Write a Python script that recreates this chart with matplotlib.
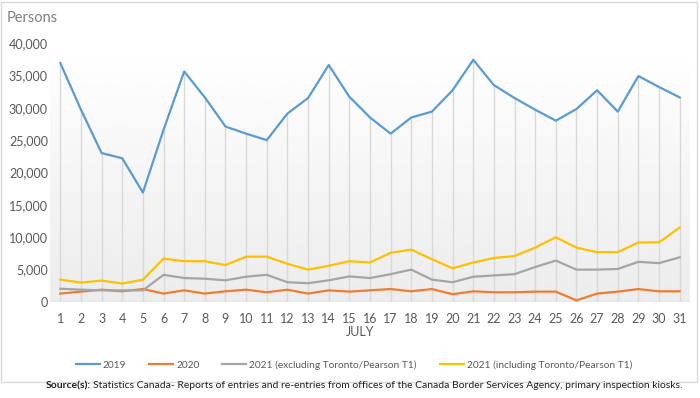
import numpy as np
import matplotlib.pyplot as plt
from matplotlib.patches import Rectangle

plt.rcParams['font.family'] = ['Lato', 'DejaVu Sans']

# DATA (persons per day, July)
days = list(range(1, 32))
v2019 = [36900, 29700, 23000, 22200, 16900, 26600, 35600, 31600, 27100, 26000,
         25000, 29100, 31500, 36600, 31700, 28500, 26000, 28500, 29400, 32700,
         37400, 33500, 31500, 29700, 28000, 29800, 32700, 29400, 34900, 33200, 31600]
v2020 = [1300, 1600, 1900, 1650, 2000, 1300, 1800, 1300, 1650, 1900,
         1500, 1900, 1300, 1800, 1600, 1800, 2000, 1650, 2000, 1200,
         1650, 1500, 1500, 1600, 1600, 250, 1300, 1600, 2000, 1650, 1650]
v2021_excl = [2050, 1900, 1800, 1800, 1800, 4200, 3700, 3600, 3350, 3900,
              4200, 3050, 2900, 3350, 3950, 3700, 4300, 5000, 3450, 3050,
              3900, 4100, 4300, 5400, 6400, 5000, 5000, 5100, 6200, 6000, 6900]
v2021_incl = [3450, 3000, 3300, 2850, 3450, 6700, 6300, 6300, 5700, 7000,
              7000, 5900, 5000, 5600, 6300, 6100, 7600, 8100, 6600, 5200,
              6100, 6800, 7100, 8400, 10000, 8400, 7700, 7700, 9200, 9200, 11500]
series_names = ['2019', '2020', '2021 (excluding Toronto/Pearson T1)',
                '2021 (including Toronto/Pearson T1)']
colors = ['#5B9BD5', '#ED7D31', '#A5A5A5', '#FFC000']
y_ticks = [0, 5000, 10000, 15000, 20000, 25000, 30000, 35000, 40000]

fig = plt.figure(figsize=(7, 3.98), dpi=100)
ax = fig.add_axes([50 / 700, 1 - 302 / 398, 640 / 700, 259 / 398])

# gradient background (white at top, light gray at bottom)
grad = np.linspace(1.0, 0.925, 256).reshape(-1, 1)
ax.imshow(grad, cmap='gray', vmin=0, vmax=1, aspect='auto',
          extent=[0.5, 31.5, 0, 40000], zorder=0, origin='upper')

# drop lines from the 2019 series
ax.vlines(days, 0, v2019, color='#d9d9d9', lw=1, zorder=1)
ax.axhline(0, color='#d9d9d9', lw=1, zorder=1)

for vals, name, c in zip([v2019, v2020, v2021_excl, v2021_incl], series_names, colors):
    ax.plot(days, vals, color=c, lw=1.6, label=name, zorder=3)

ax.set_xlim(0.5, 31.5)
ax.set_ylim(0, 40000)
ax.set_xticks(days)
ax.set_xticklabels([str(d) for d in days])
ax.set_yticks(y_ticks)
ax.set_yticklabels([f'{t:,}' for t in y_ticks])
ax.tick_params(length=0, labelsize=9, colors='#595959')
ax.tick_params(axis='x', pad=8)
ax.tick_params(axis='y', pad=1.5)
for s in ax.spines.values():
    s.set_visible(False)

fig.text(7 / 700, 1 - 18 / 398, 'Persons', fontsize=10.5, color='#7f7f7f', va='center')
fig.text(360 / 700, 1 - 332 / 398, 'JULY', fontsize=9, color='#595959', ha='center', va='center')

fig.legend(loc='center', bbox_to_anchor=(354 / 700, 1 - 365 / 398), ncol=4, frameon=False,
           fontsize=7.3, handlelength=2.35, columnspacing=2.27, handletextpad=0.3,
           labelcolor='#595959')

# outer chart frame
fig.patches.append(Rectangle((1 / 700, 1 - 382 / 398), 696 / 700, 380 / 398,
                             transform=fig.transFigure, fill=False,
                             edgecolor='#d9d9d9', lw=1))

fig.text(46 / 700, 1 - 386 / 398, 'Source(s):', fontsize=7.5, fontweight='bold',
         color='#222222', va='center')
fig.text(93 / 700, 1 - 386 / 398,
         'Statistics Canada- Reports of entries and re-entries from offices of the '
         'Canada Border Services Agency, primary inspection kiosks.',
         fontsize=7.5, color='#222222', va='center')

fig.savefig('out.png', dpi=100)
